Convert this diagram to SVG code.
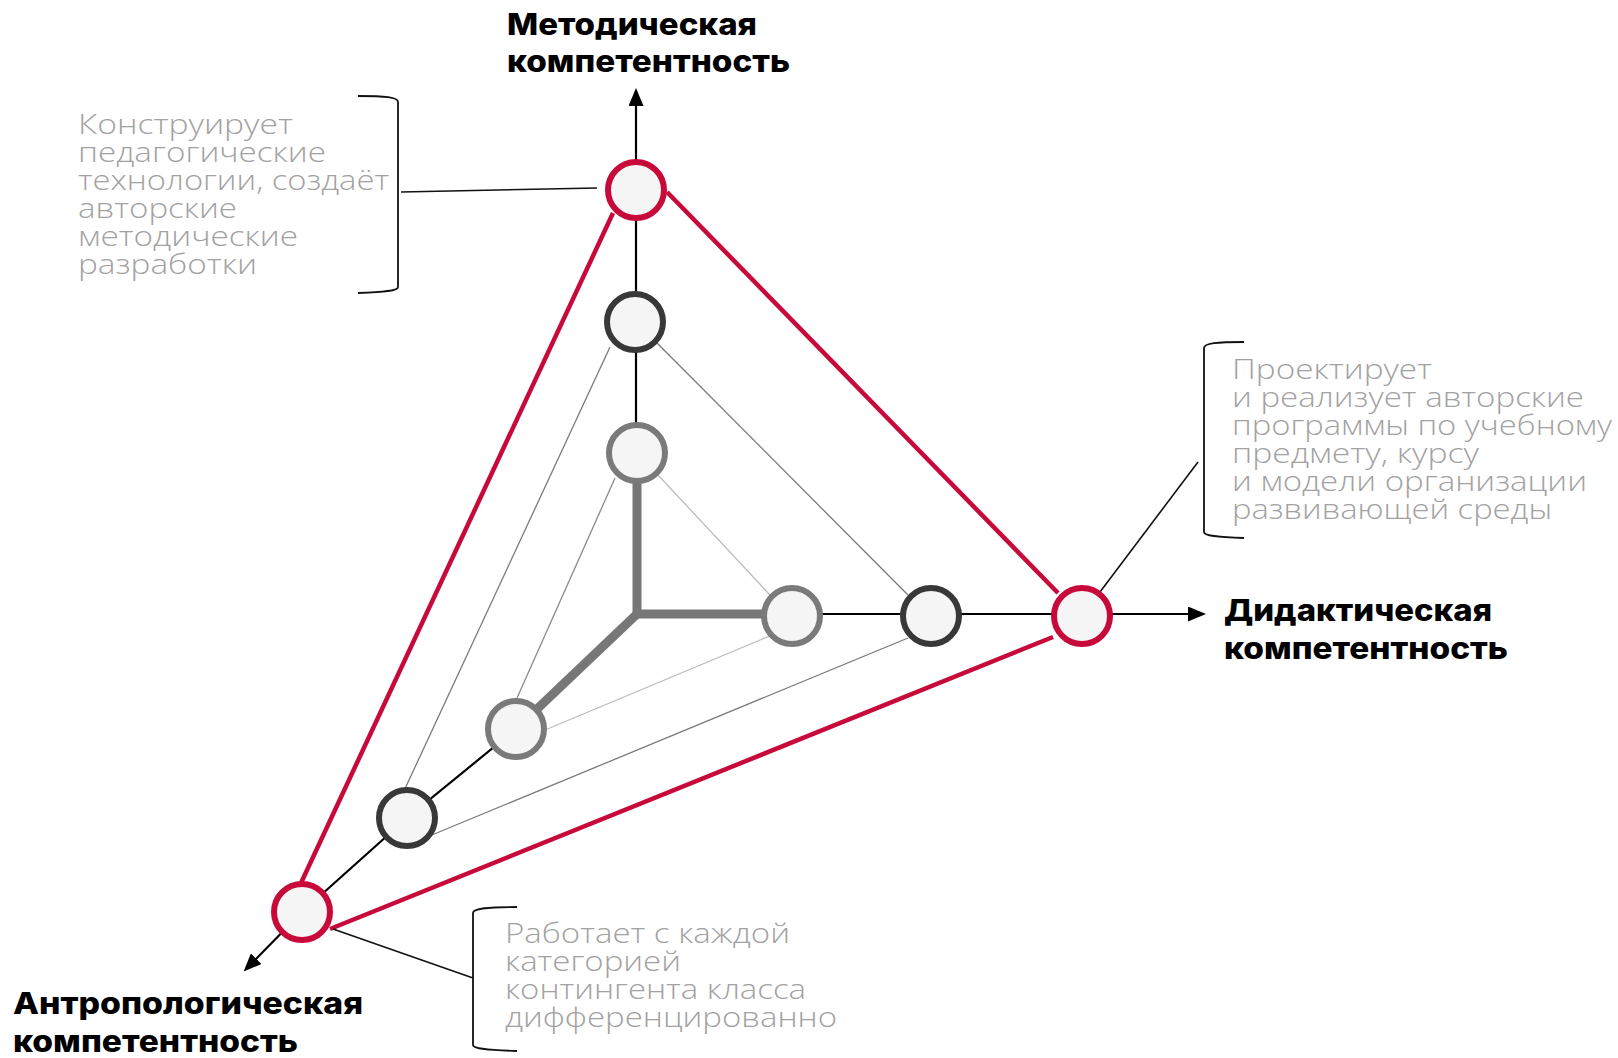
<svg xmlns="http://www.w3.org/2000/svg" width="1618" height="1058" viewBox="0 0 1618 1058">
<style>
.axis{stroke:#000;stroke-width:2.2;fill:none}
.thick{stroke:#777;stroke-width:9;fill:none}
.red{stroke:#c70a3a;stroke-width:4.5;fill:none}
.dk{stroke:#7a7a7a;stroke-width:1.3;fill:none}
.lt{stroke:#bcbcbc;stroke-width:1.3;fill:none}
.lm{stroke:#8a8a8a;stroke-width:1.3;fill:none}
.con{stroke:#111;stroke-width:1.6;fill:none}
.br{stroke:#111;stroke-width:1.8;fill:none}
.n{fill:#f5f5f5;stroke-width:6}
.nr{stroke:#c70a3a}
.nd{stroke:#383838}
.ng{stroke:#7a7a7a}
.lbl{font-family:Inter,"DejaVu Sans","Liberation Sans",sans-serif;font-weight:800;font-size:30px;fill:#000}
.desc{font-family:"Open Sans","Liberation Sans",sans-serif;font-weight:300;font-size:27px;fill:#a2a2a2}
</style>
<defs>
<marker id="arr" viewBox="0 0 18 15" refX="6" refY="7.5" markerWidth="18" markerHeight="15" markerUnits="userSpaceOnUse" orient="auto">
<path d="M0,0 L18,7.5 L0,15 z" fill="#000"/>
</marker>
</defs>
<g id="connectors">
<line class="red" x1="613" y1="213" x2="301" y2="883"/>
<line class="red" x1="667" y1="192" x2="1058" y2="593"/>
<line class="red" x1="330" y1="929" x2="1053" y2="637"/>
<line class="dk" x1="657" y1="343" x2="908" y2="595"/>
<line class="dk" x1="610" y1="347" x2="403" y2="793"/>
<line class="dk" x1="427" y1="837" x2="908" y2="638"/>
<line class="lt" x1="658" y1="475" x2="770" y2="595"/>
<line class="lm" x1="615" y1="478" x2="517" y2="698"/>
<line class="lt" x1="545" y1="730" x2="772" y2="635"/>
<line class="axis" x1="636" y1="453" x2="636" y2="100" marker-end="url(#arr)"/>
<line class="axis" x1="792" y1="614" x2="1194" y2="614" marker-end="url(#arr)"/>
<polyline class="axis" points="516,729 407,818 302,912 252,963" marker-end="url(#arr)"/>
<path class="thick" d="M637,453 V614 H792"/>
<path class="thick" d="M637,614 L516,729"/>
<line class="con" x1="401" y1="192" x2="597" y2="188"/>
<line class="con" x1="1100" y1="592" x2="1198" y2="462"/>
<line class="con" x1="333" y1="929" x2="473" y2="978"/>
</g>
<g id="node-met-3"><circle class="n nr" cx="636" cy="190" r="28"/></g>
<g id="node-met-2"><circle class="n nd" cx="635" cy="322" r="28"/></g>
<g id="node-met-1"><circle class="n ng" cx="637" cy="453" r="28"/></g>
<g id="node-did-1"><circle class="n ng" cx="792" cy="616" r="28"/></g>
<g id="node-did-2"><circle class="n nd" cx="931" cy="616" r="28"/></g>
<g id="node-did-3"><circle class="n nr" cx="1082" cy="616" r="28"/></g>
<g id="node-ant-1"><circle class="n ng" cx="516" cy="729" r="28"/></g>
<g id="node-ant-2"><circle class="n nd" cx="407" cy="818" r="28"/></g>
<g id="node-ant-3"><circle class="n nr" cx="302" cy="912" r="28"/></g>
<g id="label-met">
<text class="lbl" x="507" y="35" textLength="250" lengthAdjust="spacingAndGlyphs">Методическая</text>
<text class="lbl" x="507" y="72" textLength="283" lengthAdjust="spacingAndGlyphs">компетентность</text>
</g>
<g id="label-did">
<text class="lbl" x="1224" y="621" textLength="268" lengthAdjust="spacingAndGlyphs">Дидактическая</text>
<text class="lbl" x="1224" y="659" textLength="284" lengthAdjust="spacingAndGlyphs">компетентность</text>
</g>
<g id="label-ant">
<text class="lbl" x="13" y="1014" textLength="350" lengthAdjust="spacingAndGlyphs">Антропологическая</text>
<text class="lbl" x="13" y="1052" textLength="285" lengthAdjust="spacingAndGlyphs">компетентность</text>
</g>
<g id="note-met">
<path class="br" d="M358,96 C385,96 398,97 398,102 V287 C398,291 385,292 358,293"/>
<text class="desc" x="78" y="134" textLength="215" lengthAdjust="spacingAndGlyphs">Конструирует</text>
<text class="desc" x="78" y="162" textLength="248" lengthAdjust="spacingAndGlyphs">педагогические</text>
<text class="desc" x="78" y="190" textLength="311" lengthAdjust="spacingAndGlyphs">технологии, создаёт</text>
<text class="desc" x="78" y="218" textLength="159" lengthAdjust="spacingAndGlyphs">авторские</text>
<text class="desc" x="78" y="246" textLength="220" lengthAdjust="spacingAndGlyphs">методические</text>
<text class="desc" x="78" y="274" textLength="179" lengthAdjust="spacingAndGlyphs">разработки</text>
</g>
<g id="note-did">
<path class="br" d="M1244,342 C1217,342 1204,343 1204,348 V532 C1204,536 1217,537 1244,538"/>
<text class="desc" x="1232" y="379" textLength="200" lengthAdjust="spacingAndGlyphs">Проектирует</text>
<text class="desc" x="1232" y="407" textLength="352" lengthAdjust="spacingAndGlyphs">и реализует авторские</text>
<text class="desc" x="1232" y="435" textLength="380" lengthAdjust="spacingAndGlyphs">программы по учебному</text>
<text class="desc" x="1232" y="463" textLength="247" lengthAdjust="spacingAndGlyphs">предмету, курсу</text>
<text class="desc" x="1232" y="491" textLength="355" lengthAdjust="spacingAndGlyphs">и модели организации</text>
<text class="desc" x="1232" y="519" textLength="320" lengthAdjust="spacingAndGlyphs">развивающей среды</text>
</g>
<g id="note-ant">
<path class="br" d="M517,907 C488,907 473,908 473,913 V1045 C473,1049 488,1050 517,1051"/>
<text class="desc" x="505" y="943" textLength="285" lengthAdjust="spacingAndGlyphs">Работает с каждой</text>
<text class="desc" x="505" y="971" textLength="176" lengthAdjust="spacingAndGlyphs">категорией</text>
<text class="desc" x="505" y="999" textLength="301" lengthAdjust="spacingAndGlyphs">контингента класса</text>
<text class="desc" x="505" y="1027" textLength="332" lengthAdjust="spacingAndGlyphs">дифференцированно</text>
</g>
</svg>
